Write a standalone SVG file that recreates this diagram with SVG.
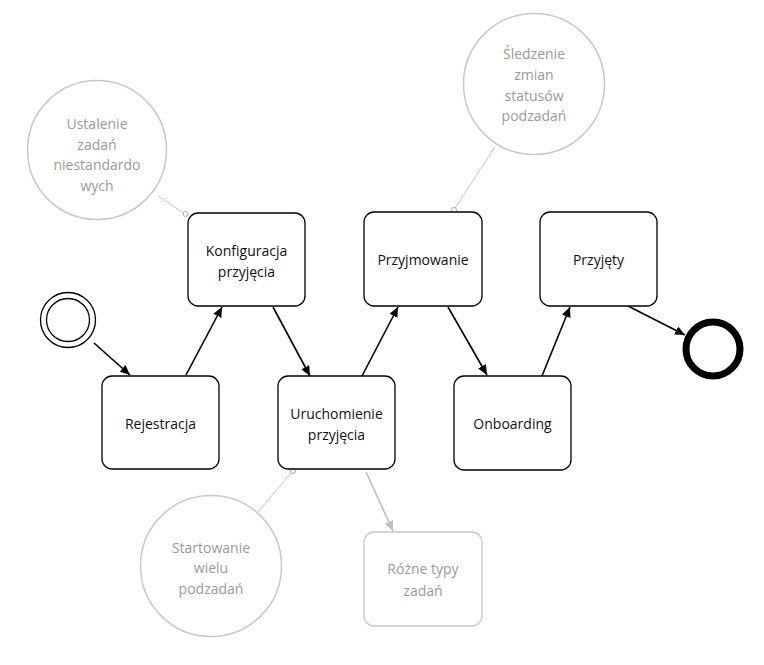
<svg xmlns="http://www.w3.org/2000/svg" width="764" height="665" viewBox="0 0 764 665">
<defs>
<style>
.task{fill:#fff;stroke:#000;stroke-width:1.3}
.gtask{fill:#fff;stroke:#c8c8c8;stroke-width:1.3}
.note{fill:#fff;stroke:#c8c8c8;stroke-width:1.5}
.t{font-family:"Open Sans","Noto Sans",sans-serif;font-size:14px;fill:#111;text-anchor:middle;dominant-baseline:central}
.gt{font-family:"Open Sans","Noto Sans",sans-serif;font-size:14px;fill:#9a9a9a;text-anchor:middle;dominant-baseline:central}
.flow{stroke:#000;stroke-width:1.6;fill:none;marker-end:url(#ah)}
.gflow{stroke:#bdbdbd;stroke-width:1.6;fill:none;marker-end:url(#gah)}
.assoc{stroke:#c8c8c8;stroke-width:1;fill:none}
.dot{fill:#fff;stroke:#aaa;stroke-width:1}
</style>
<marker id="ah" viewBox="0 0 10 10" refX="10" refY="5" markerWidth="10" markerHeight="9" markerUnits="userSpaceOnUse" orient="auto" preserveAspectRatio="none"><path d="M0,0 L10,5 L0,10 z" fill="#000"/></marker>
<marker id="gah" viewBox="0 0 10 10" refX="10" refY="5" markerWidth="10" markerHeight="9" markerUnits="userSpaceOnUse" orient="auto" preserveAspectRatio="none"><path d="M0,0 L10,5 L0,10 z" fill="#bdbdbd"/></marker>
</defs>
<rect width="764" height="665" fill="#fff"/>

<g id="connectors">
<path class="flow" d="M94,343 L130,375"/>
<path class="flow" d="M186,375 L222,307"/>
<path class="flow" d="M273,307 L310,376"/>
<path class="flow" d="M362,376 L398,307"/>
<path class="flow" d="M448,307 L487,375"/>
<path class="flow" d="M542,376 L570,307"/>
<path class="flow" d="M628,306 L685,335"/>
<path class="gflow" d="M366,472 L393,531"/>
<path class="assoc" d="M158,196 L184,213"/>
<circle class="dot" cx="185.5" cy="214" r="2.5"/>
<path class="assoc" d="M495,147 L455,208"/>
<circle class="dot" cx="454" cy="210" r="2.5"/>
<path class="assoc" d="M258,512 L291,473"/>
<circle class="dot" cx="293" cy="471" r="2.5"/>
</g>

<g id="start">
<circle cx="68" cy="320" r="27.5" fill="#fff" stroke="#000" stroke-width="1.3"/>
<circle cx="68" cy="320" r="21.5" fill="#fff" stroke="#000" stroke-width="1.3"/>
</g>

<g id="end">
<circle cx="713" cy="349" r="27" fill="#fff" stroke="#000" stroke-width="7"/>
</g>

<g id="rejestracja">
<rect class="task" x="102" y="376" width="117" height="93" rx="10"/>
<text class="t" x="160.5" y="423">Rejestracja</text>
</g>

<g id="konfiguracja">
<rect class="task" x="188" y="213" width="117" height="93" rx="10"/>
<text class="t" x="246.5" y="250">Konfiguracja</text>
<text class="t" x="246.5" y="271">przyjęcia</text>
</g>

<g id="uruchomienie">
<rect class="task" x="278" y="376" width="117" height="93" rx="10"/>
<text class="t" x="336.5" y="413">Uruchomienie</text>
<text class="t" x="336.5" y="434">przyjęcia</text>
</g>

<g id="przyjmowanie">
<rect class="task" x="364" y="212" width="118" height="94" rx="10"/>
<text class="t" x="423" y="259">Przyjmowanie</text>
</g>

<g id="onboarding">
<rect class="task" x="454" y="376" width="117" height="94" rx="10"/>
<text class="t" x="512.5" y="423">Onboarding</text>
</g>

<g id="przyjety">
<rect class="task" x="540" y="212" width="117" height="94" rx="10"/>
<text class="t" x="598.5" y="259">Przyjęty</text>
</g>

<g id="rozne-typy">
<rect class="gtask" x="364" y="532" width="118" height="94" rx="10"/>
<text class="gt" x="423" y="568">Różne typy</text>
<text class="gt" x="423" y="590">zadań</text>
</g>

<g id="ustalenie">
<circle class="note" cx="97" cy="150" r="69.5"/>
<text class="gt" x="97" y="123">Ustalenie</text>
<text class="gt" x="97" y="144">zadań</text>
<text class="gt" x="97" y="164">niestandardo</text>
<text class="gt" x="97" y="185">wych</text>
</g>

<g id="sledzenie">
<circle class="note" cx="534" cy="84" r="70.5"/>
<text class="gt" x="534" y="53">Śledzenie</text>
<text class="gt" x="534" y="74">zmian</text>
<text class="gt" x="534" y="95">statusów</text>
<text class="gt" x="534" y="115">podzadań</text>
</g>

<g id="startowanie">
<circle class="note" cx="211" cy="566" r="70.5"/>
<text class="gt" x="211" y="547">Startowanie</text>
<text class="gt" x="211" y="567">wielu</text>
<text class="gt" x="211" y="588">podzadań</text>
</g>
</svg>
